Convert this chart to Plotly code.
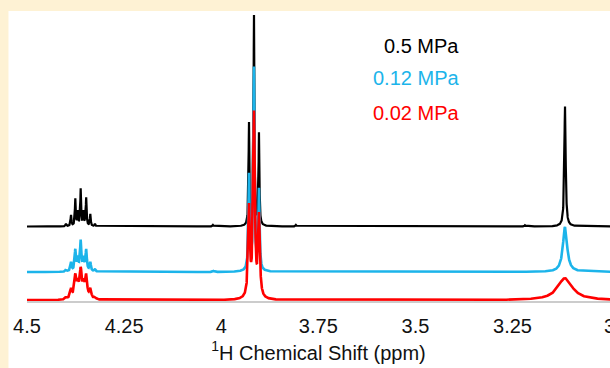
import numpy as np
import plotly.graph_objects as go

# ---- data (1H NMR, three pressures) ----
series_names = ["0.5 MPa", "0.12 MPa", "0.02 MPa"]
series_colors = ["#000000", "#1cb4ea", "#ff0000"]

# peak centres (ppm): multiplet ~4.36, triplet ~3.92, singlet ~3.11, small impurities
peak_ppm = [4.3996, 4.3867, 4.3756, 4.3692, 4.3617, 4.3543, 4.3476, 4.3370, 4.3249,
            3.9284, 3.9156, 3.9027,
            3.1148,
            4.0211, 3.8074, 3.2178]

# peak heights (intensity units) for each spectrum
height_05 = [2.5, 11, 27, 14, 37, 14, 28, 12, 2.5,
             102, 209.5, 92.5,
             120,
             1.5, 1.5, 1.2]
height_012 = [2, 9, 21, 12, 30, 12, 21, 9, 2,
              95, 202, 80,
              45,
              1.0, 0.0, 0.0]
height_002 = [2, 9.5, 22, 13, 27.5, 13, 22, 9.5, 2,
              89, 183, 80,
              22,
              0.0, 0.0, 0.0]

# half widths at half maximum (ppm) for each spectrum
hwhm_05 = [0.0013] * 9 + [0.0013] * 3 + [0.0020] + [0.0015] * 3
hwhm_012 = [0.0020] * 9 + [0.0018] * 3 + [0.0065] + [0.0015] * 3
hwhm_002 = [0.0030] * 9 + [0.0026] * 3 + [0.0230] + [0.0015] * 3

# vertical stacking offsets of the three spectra
stack_offset = [74.5, 29.0, 0.8]

tick_vals = [4.5, 4.25, 4.0, 3.75, 3.5, 3.25, 3.0]
tick_text = ["4.5", "4.25", "4", "3.75", "3.5", "3.25", "3"]

# ---- build spectra ----
ppm = np.arange(2.995, 4.5004, 0.0002)


def spectrum(heights, widths):
    y = np.zeros_like(ppm)
    for c, h, w in zip(peak_ppm, heights, widths):
        y += h * w ** 2 / ((ppm - c) ** 2 + w ** 2)
    return y


heights_all = [height_05, height_012, height_002]
widths_all = [hwhm_05, hwhm_012, hwhm_002]
line_w = [2.2, 2.6, 2.6]

FONT = "Liberation Sans, Arial, sans-serif"
CREAM = "#fef2d4"

fig = go.Figure()
for name, col, h, w, off, lw in zip(series_names, series_colors, heights_all,
                                     widths_all, stack_offset, line_w):
    fig.add_trace(go.Scatter(x=ppm, y=spectrum(h, w) + off, mode="lines",
                             name=name, line=dict(color=col, width=lw),
                             hoverinfo="skip"))

# plot area: x 27..610, y 12..301 (px)
L, T, B = 27, 12, 67
W, H = 610, 368
pw, ph = W - L, H - T - B


def px_x(x):
    return (x - L) / pw


def px_y(y):
    return (H - B - y) / ph


shapes = [dict(type="rect", xref="paper", yref="paper", layer="below",
               x0=px_x(8.5), x1=px_x(615), y0=px_y(372), y1=px_y(11),
               fillcolor="white", line=dict(width=0))]

label_y = [45.5, 78.5, 112.5]
annotations = []
for name, col, yy in zip(series_names, series_colors, label_y):
    annotations.append(dict(text=name, xref="paper", yref="paper",
                            x=px_x(461), y=px_y(yy), xanchor="right",
                            yanchor="middle", showarrow=False,
                            font=dict(family=FONT, size=20, color=col)))

fig.update_layout(
    width=W, height=H,
    margin=dict(l=L, r=0, t=T, b=B, pad=0),
    paper_bgcolor=CREAM, plot_bgcolor="white",
    showlegend=False, hovermode=False,
    shapes=shapes, annotations=annotations,
    font=dict(family=FONT, color="#111111"),
    xaxis=dict(range=[4.5, 2.999], tickvals=tick_vals, ticktext=tick_text,
               showgrid=False, zeroline=False, showline=True,
               linecolor="#cccccc", linewidth=1.5, ticks="",
               ticklabeloverflow="allow", ticklabelstandoff=6,
               tickfont=dict(family=FONT, size=20, color="#111111"),
               title=dict(text="<sup>1</sup>H Chemical Shift (ppm)",
                          font=dict(family=FONT, size=20, color="#111111"),
                          standoff=10),
               automargin=False),
    yaxis=dict(visible=False, range=[0, ph], fixedrange=True),
)

fig.write_html("out.html", config={"displayModeBar": False},
               post_script="document.body.style.margin='0';"
                           "document.body.style.background='" + CREAM + "';")
